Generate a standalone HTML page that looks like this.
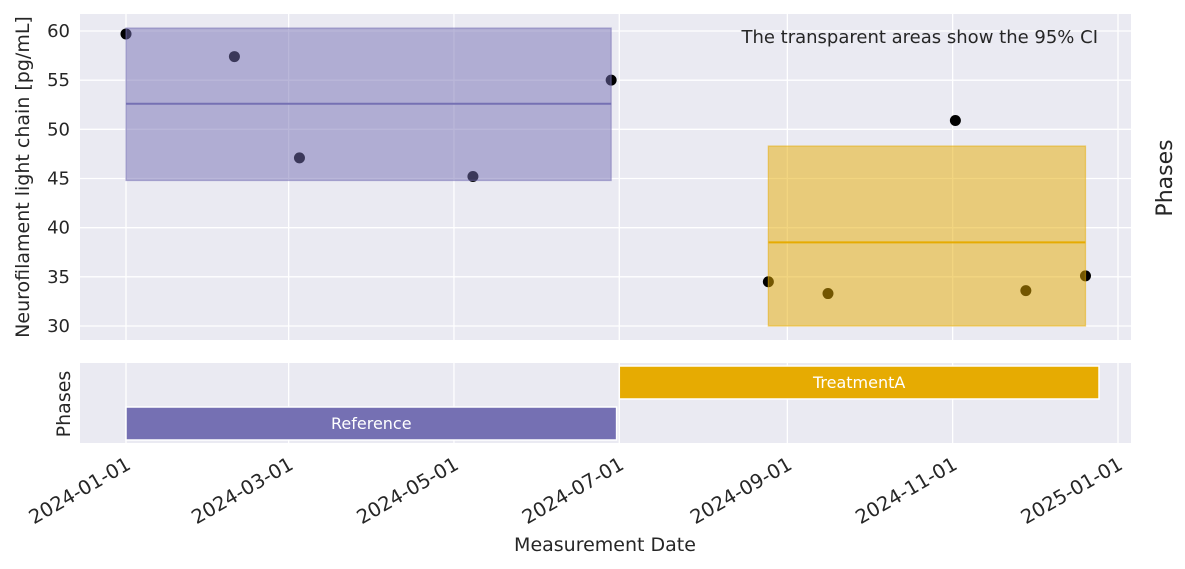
<!DOCTYPE html>
<html><head><meta charset="utf-8"><style>
body{margin:0;background:#fff;}
svg{display:block;font-family:"DejaVu Sans","Liberation Sans",sans-serif;}
</style></head><body>
<svg id="chart" width="1185" height="569">
<rect x="80" y="14" width="1051" height="326" fill="#eaeaf2"/>
<rect x="80" y="363" width="1051" height="80" fill="#eaeaf2"/>
<g id="grid"></g>
<g id="pts"></g>
<g id="boxes"></g>
<g id="bars"></g>
<g id="ticks"></g>
<text x="1098" y="43" font-size="18" text-anchor="end" fill="#262626">The transparent areas show the 95% CI</text>
<text transform="translate(29,177) rotate(-90)" font-size="19" text-anchor="middle" fill="#262626">Neurofilament light chain [pg/mL]</text>
<text transform="translate(1172,178) rotate(-90)" font-size="22" text-anchor="middle" fill="#262626">Phases</text>
<text transform="translate(70,404) rotate(-90)" font-size="19" text-anchor="middle" fill="#262626">Phases</text>
<text x="605" y="551" font-size="19" text-anchor="middle" fill="#262626">Measurement Date</text>
</svg>
<script>
const dates=["2024-01-01","2024-02-10","2024-03-05","2024-05-08","2024-06-28","2024-08-25","2024-09-16","2024-11-02","2024-11-28","2024-12-20"];
const values=[59.7,57.4,47.1,45.2,55.0,34.5,33.3,50.9,33.6,35.1];
const phaseNames=["Reference","TreatmentA"];
const phaseStart=["2024-01-01","2024-07-01"];
const phaseEnd=["2024-06-30","2024-12-25"];
const ciStart=["2024-01-01","2024-08-25"];
const ciEnd=["2024-06-28","2024-12-20"];
const ciLow=[44.8,30.0];
const ciHigh=[60.3,48.3];
const ciMean=[52.6,38.5];
const phaseColors=["#7570b3","#e6ab02"];
const xTicks=["2024-01-01","2024-03-01","2024-05-01","2024-07-01","2024-09-01","2024-11-01","2025-01-01"];
const yTicks=[30,35,40,45,50,55,60];

const NS="http://www.w3.org/2000/svg";
const t0=Date.UTC(2024,0,1);
function day(s){const p=s.split("-");return (Date.UTC(+p[0],+p[1]-1,+p[2])-t0)/86400000;}
function X(s){return 126+day(s)*992/366;}
function Y(v){return 326-(v-30)*(295/30);}
function mk(parent,tag,attrs){const e=document.createElementNS(NS,tag);for(const k in attrs)e.setAttribute(k,attrs[k]);document.getElementById(parent).appendChild(e);return e;}

yTicks.forEach(v=>{
 const l=mk("grid","line",{x1:80,x2:1131,y1:Y(v),y2:Y(v),stroke:"#fff","stroke-width":1.3});
 
 
 const t=mk("ticks","text",{x:70,y:Y(v)+6,"font-size":18,"text-anchor":"end",fill:"#262626"});
 t.textContent=v;
 
 
});
xTicks.forEach(d=>{
 const x=X(d);
 const l=mk("grid","line",{x1:x,x2:x,y1:14,y2:340,stroke:"#fff","stroke-width":1.3});
 
 
 const l2=mk("grid","line",{x1:x,x2:x,y1:363,y2:443,stroke:"#fff","stroke-width":1.3});
 
 
 const t=mk("ticks","text",{transform:`translate(${x+6},${468}) rotate(-30)`,"font-size":19.5,"text-anchor":"end",fill:"#262626"});
 t.textContent=d;
 
 
});
dates.forEach((d,i)=>{
 const c=mk("pts","circle",{cx:X(d),cy:Y(values[i]),r:5.5,fill:"#000"});
 
 
});
ciStart.forEach((s,i)=>{
 const x1=X(s),x2=X(ciEnd[i]);
 const r=mk("boxes","rect",{x:x1,y:Y(ciHigh[i]),width:x2-x1,height:Y(ciLow[i])-Y(ciHigh[i]),fill:phaseColors[i],"fill-opacity":0.5,stroke:phaseColors[i],"stroke-opacity":0.5,"stroke-width":1.3});
 
 
 const m=mk("boxes","line",{x1:x1,x2:x2,y1:Y(ciMean[i]),y2:Y(ciMean[i]),stroke:phaseColors[i],"stroke-width":2});
 
 
});
const barY=[407,366];
phaseNames.forEach((n,i)=>{
 const x1=X(phaseStart[i]),x2=X(phaseEnd[i]);
 const r=mk("bars","rect",{x:x1,y:barY[i],width:x2-x1,height:33,fill:phaseColors[i],stroke:"#fff","stroke-width":1.5});
 
 
 const t=mk("bars","text",{x:(x1+x2)/2,y:barY[i]+22,"font-size":16,"text-anchor":"middle",fill:"#fff"});
 t.textContent=n;
 
 
});
</script>
</body></html>
